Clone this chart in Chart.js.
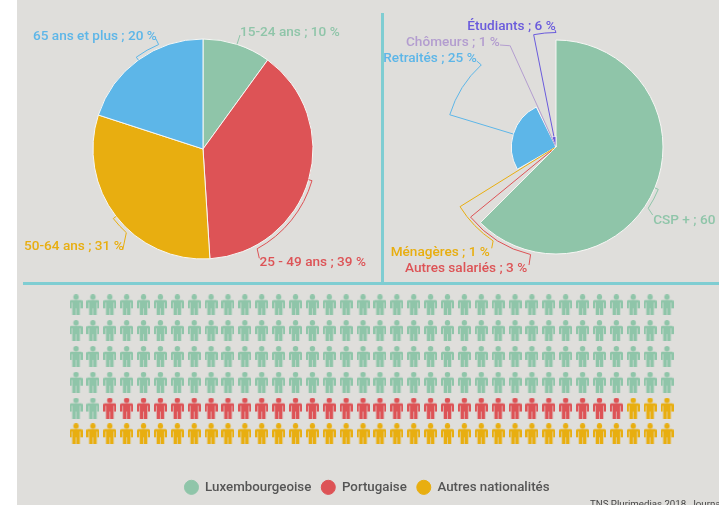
<!DOCTYPE html>
<html lang="fr">
<head>
<meta charset="utf-8">
<script src="https://cdn.jsdelivr.net/npm/chart.js@4"></script>
<style>
html,body{margin:0;padding:0;background:#fff;width:719px;height:505px;overflow:hidden}
#bg{position:absolute;left:17px;top:0;width:702px;height:505px;background:#dfdedb}
canvas{position:absolute;display:block;filter:blur(.35px)}
.rule{position:absolute;background:#7fcdd2}
#source{position:absolute;left:590px;top:498px;font:400 9.7px Roboto,sans-serif;color:#444;white-space:nowrap;filter:blur(.25px)}
</style>
</head>
<body>
<div id="bg"></div>
<div class="rule" style="left:381px;top:13px;width:3px;height:271px"></div>
<div class="rule" style="left:23px;top:282px;width:696px;height:3px"></div>
<canvas id="ages" width="364" height="283" style="left:17px;top:0"></canvas>
<canvas id="csp" width="335" height="283" style="left:384px;top:0"></canvas>
<canvas id="people" width="702" height="220" style="left:17px;top:285px"></canvas>
<div id="source">TNS Plurimedias 2018, Journal</div>
<script>
// ---- data ----
const ageLabels = ['15-24 ans', '25 - 49 ans', '50-64 ans', '65 ans et plus'];
const ageValues = [10, 39, 31, 20];
const ageColors = ['#8fc5a9', '#dd5356', '#e8ae10', '#5db6e8'];

const cspLabels = ['CSP +', 'Autres salariés', 'Ménagères', 'Retraités', 'Chômeurs', 'Étudiants'];
const cspValues = [60, 3, 1, 25, 1, 6];
const cspColors = ['#8fc5a9', '#dd5356', '#e8ae10', '#5db6e8', '#b39dcf', '#6a5bdc'];

const nationLabels = ['Luxembourgeoise', 'Portugaise', 'Autres nationalités'];
const nationCounts = [146, 31, 39];
const nationColors = ['#8fc5a9', '#dd5356', '#e8ae10'];
const peoplePerRow = 36;

// ---- label placement (page pixels; arc end in degrees clockwise from 12 o'clock) ----
const ageCallouts = [
  {x:240, y:36,  arcR:113.5, arcEnd:18,    tipX:240,   tipY:35},
  {x:259.5, y:266, arcR:113.5, arcEnd:151.5, tipX:259.3, tipY:258.3},
  {x:24,  y:250, arcR:113.5, arcEnd:222.5, tipX:122.7, tipY:250},
  {x:33,  y:40,  arcR:113.5, arcEnd:337,   tipX:156,   tipY:39}
];
const cspCallouts = [
  {x:653.2, y:224, arcR:110.7, arcEnd:123.6, tipX:652.7, tipY:215},
  {x:405,   y:271.7, arcR:110.5, arcEnd:193.3, tipX:529, tipY:265},
  {x:390.7, y:255.7, arcR:113, arcEnd:213.8, tipX:491.7, tipY:248.3},
  {x:383.3, y:61.7, arcR:111, arcEnd:317.7, tipX:476.7, tipY:61},
  {x:406,   y:46,  arcR:111.5, arcEnd:335.3, tipX:500, tipY:45},
  {x:467.3, y:30,  arcR:114.5, arcEnd:360, tipX:555, tipY:30}
];

const labelFont = '500 13.6px Roboto, sans-serif';

// Draws the bracket-shaped leader and the label of each slice, starting at the slice's own geometry.
const calloutPlugin = {
  id: 'callouts',
  afterDatasetsDraw(chart, args, opts) {
    const ctx = chart.ctx;
    const arcs = chart.getDatasetMeta(0).data;
    const off = chart.canvas.getBoundingClientRect();
    arcs.forEach((el, i) => {
      const c = opts.callouts[i];
      const p = el.getProps(['x', 'y', 'startAngle', 'endAngle', 'outerRadius']);
      const mid = (p.startAngle + p.endAngle) / 2;
      const end = (c.arcEnd - 90) * Math.PI / 180;
      const color = opts.colors[i];
      ctx.save();
      ctx.strokeStyle = color;
      ctx.lineWidth = 1;
      ctx.beginPath();
      ctx.moveTo(p.x + Math.cos(mid) * p.outerRadius, p.y + Math.sin(mid) * p.outerRadius);
      ctx.arc(p.x, p.y, c.arcR, mid, end, end < mid);
      ctx.lineTo(c.tipX - off.left, c.tipY - off.top);
      ctx.stroke();
      ctx.fillStyle = color;
      ctx.font = labelFont;
      ctx.textAlign = 'left';
      ctx.textBaseline = 'alphabetic';
      ctx.fillText(opts.labels[i] + ' ; ' + opts.values[i] + ' %', c.x - off.left, c.y - off.top);
      ctx.restore();
    });
  }
};

Chart.defaults.animation = false;
Chart.defaults.font.family = 'Roboto, sans-serif';

new Chart(document.getElementById('ages'), {
  type: 'pie',
  data: {
    labels: ageLabels,
    datasets: [{data: ageValues, backgroundColor: ageColors, borderColor: '#f6f6f4', borderWidth: 1}]
  },
  options: {
    responsive: false,
    events: [],
    layout: {padding: {left: 75.5, right: 67.5, top: 38.5, bottom: 23.5}},
    plugins: {
      legend: {display: false},
      tooltip: {enabled: false},
      callouts: {callouts: ageCallouts, colors: ageColors, labels: ageLabels, values: ageValues}
    }
  },
  plugins: [calloutPlugin]
});

const cspTotal = cspValues.reduce((a, b) => a + b, 0);
new Chart(document.getElementById('csp'), {
  type: 'polarArea',
  data: {
    labels: cspLabels,
    datasets: [{
      data: cspValues,
      backgroundColor: cspColors,
      borderColor: '#f6f6f4',
      borderWidth: 1,
      angle: ctx => cspValues[ctx.dataIndex] / cspTotal * 360
    }]
  },
  options: {
    responsive: false,
    events: [],
    layout: {padding: {left: 65, right: 56, top: 40, bottom: 29}},
    scales: {r: {display: false, min: 0, max: 60}},
    plugins: {
      legend: {display: false},
      tooltip: {enabled: false},
      callouts: {callouts: cspCallouts, colors: cspColors, labels: cspLabels, values: cspValues}
    }
  },
  plugins: [calloutPlugin]
});

// A small person glyph used as the point style of the unit chart.
function personGlyph(color) {
  const c = document.createElement('canvas');
  c.width = 13; c.height = 21;
  const g = c.getContext('2d');
  g.fillStyle = color;
  g.beginPath(); g.arc(6.5, 2.7, 2.7, 0, Math.PI * 2); g.fill();
  g.beginPath();
  g.moveTo(1.5, 5.8);
  g.lineTo(11.5, 5.8);
  g.quadraticCurveTo(13, 5.8, 13, 7.3);
  g.lineTo(13, 14);
  g.lineTo(10.9, 14);
  g.lineTo(10.9, 8.3);
  g.lineTo(10.3, 8.3);
  g.lineTo(10.3, 21);
  g.lineTo(6.8, 21);
  g.lineTo(6.8, 14);
  g.lineTo(6.2, 14);
  g.lineTo(6.2, 21);
  g.lineTo(2.7, 21);
  g.lineTo(2.7, 8.3);
  g.lineTo(2.1, 8.3);
  g.lineTo(2.1, 14);
  g.lineTo(0, 14);
  g.lineTo(0, 7.3);
  g.quadraticCurveTo(0, 5.8, 1.5, 5.8);
  g.closePath();
  g.fill();
  return c;
}

let unit = 0;
const peopleDatasets = nationLabels.map((label, k) => {
  const points = [];
  for (let n = 0; n < nationCounts[k]; n++, unit++) {
    points.push({x: unit % peoplePerRow, y: Math.floor(unit / peoplePerRow)});
  }
  return {
    label,
    data: points,
    pointStyle: personGlyph(nationColors[k]),
    backgroundColor: nationColors[k],
    borderColor: nationColors[k],
    pointRadius: 7,
    clip: false
  };
});

new Chart(document.getElementById('people'), {
  type: 'scatter',
  data: {datasets: peopleDatasets},
  options: {
    responsive: false,
    events: [],
    layout: {padding: {left: 50, right: 52, top: 19.8, bottom: 1}},
    scales: {
      x: {display: false, min: -0.533, max: peoplePerRow - 1},
      y: {display: false, reverse: true, min: 0, max: 6.43}
    },
    plugins: {
      tooltip: {enabled: false},
      legend: {
        position: 'bottom',
        labels: {
          usePointStyle: true,
          pointStyle: 'circle',
          pointStyleWidth: 14,
          boxHeight: 10,
          padding: 10,
          color: '#555',
          font: {family: 'Roboto, sans-serif', size: 13.3, weight: '500'}
        }
      }
    }
  }
});
</script>
</body>
</html>
